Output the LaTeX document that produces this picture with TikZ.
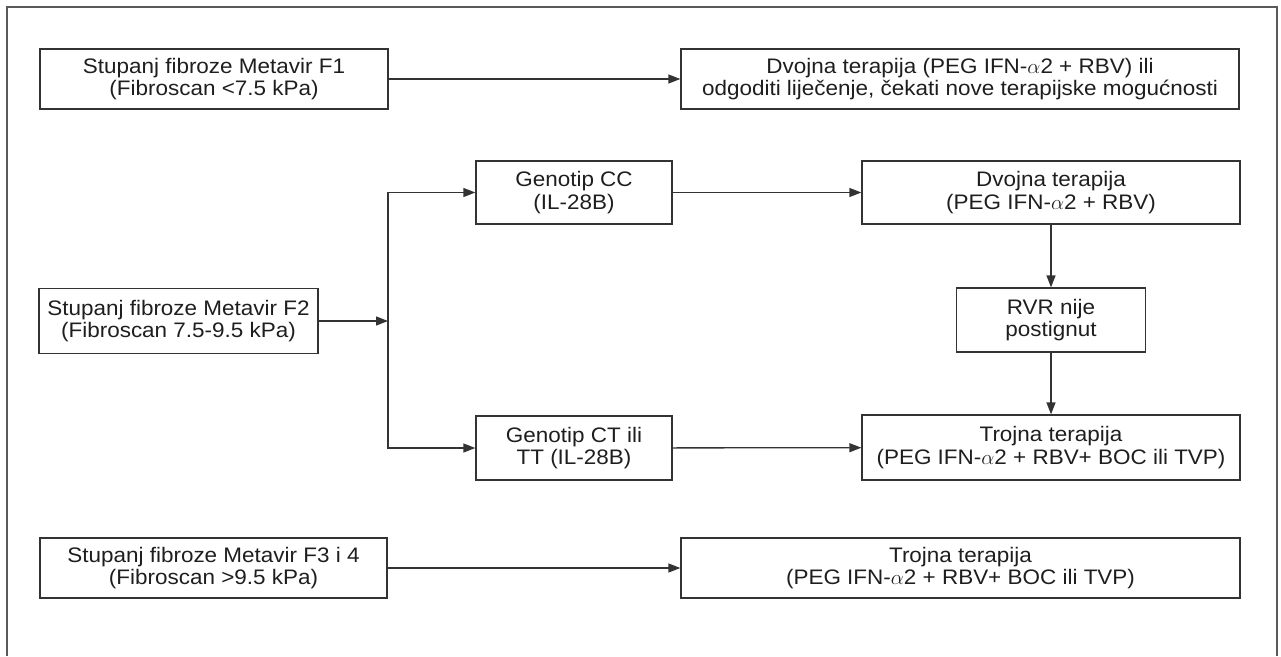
\documentclass[tikz,border=0pt]{standalone}
\usepackage{fontspec}
\setmainfont{Liberation Sans}[FakeStretch=1.07]
\usetikzlibrary{arrows.meta}
\definecolor{linec}{HTML}{333333}
\definecolor{textc}{HTML}{1E1E1E}
\definecolor{framec}{HTML}{5A5A5A}
\begin{document}
\begin{tikzpicture}[x=1pt,y=-1pt,
  box/.style={draw=linec, line width=1.3pt, rectangle, inner sep=0pt, align=center,
    text=textc, font=\fontsize{21}{22.8}\selectfont},
  arr/.style={draw=linec, line width=1.3pt, -{Triangle[length=12pt,width=9pt]}}]
\useasboundingbox (0,0) rectangle (1281,656);
\draw[framec, line width=2pt] (7,656) -- (7,7) -- (1277,7) -- (1277,656);
\node[box, minimum width=348pt, minimum height=60pt] (f1) at (214,79) {Stupanj fibroze Metavir F1\\(Fibroscan <7.5 kPa)};
\node[box, minimum width=558pt, minimum height=60pt] (r1) at (960,79) {Dvojna terapija (PEG IFN-$\alpha$2 + RBV) ili\\odgoditi liječenje, čekati nove terapijske mogućnosti};
\node[box, minimum width=196pt, minimum height=63pt] (gcc) at (574,192.5) {Genotip CC\\(IL-28B)};
\node[box, minimum width=378pt, minimum height=63pt] (dv) at (1051,192.5) {Dvojna terapija\\(PEG IFN-$\alpha$2 + RBV)};
\node[box, minimum width=189pt, minimum height=64pt] (rvr) at (1051,320) {RVR nije\\postignut};
\node[box, minimum width=279pt, minimum height=65pt] (f2) at (178.5,321) {Stupanj fibroze Metavir F2\\(Fibroscan 7.5-9.5 kPa)};
\node[box, minimum width=196pt, minimum height=64pt] (gct) at (574,448) {Genotip CT ili\\TT (IL-28B)};
\node[box, minimum width=378pt, minimum height=65pt] (tr) at (1051,447.5) {Trojna terapija\\(PEG IFN-$\alpha$2 + RBV+ BOC ili TVP)};
\node[box, minimum width=347pt, minimum height=60pt] (f3) at (213.5,568) {Stupanj fibroze Metavir F3 i 4\\(Fibroscan >9.5 kPa)};
\node[box, minimum width=559pt, minimum height=60pt] (tr3) at (960.5,568) {Trojna terapija\\(PEG IFN-$\alpha$2 + RBV+ BOC ili TVP)};
\coordinate (sp) at (388,321);
\draw[arr] (f1) -- (r1);
\draw[arr] (f2.east) -- (sp);
\draw[arr] (sp) |- (gcc.west);
\draw[arr] (sp) |- (gct.west);
\draw[arr] (gcc) -- (dv);
\draw[arr] (dv) -- (rvr);
\draw[arr] (rvr) -- (tr);
\draw[arr] (gct) -- (tr);
\draw[arr] (f3) -- (tr3);
\end{tikzpicture}
\end{document}
